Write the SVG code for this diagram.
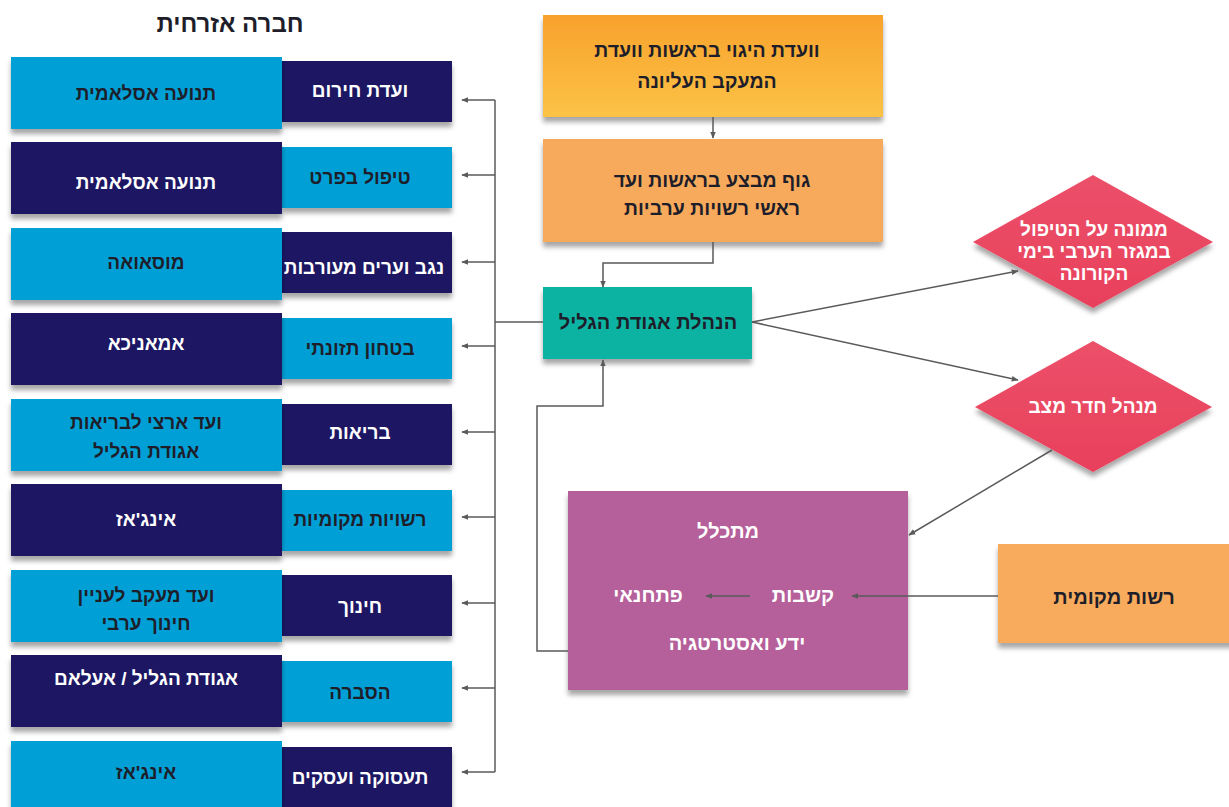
<svg xmlns="http://www.w3.org/2000/svg" width="1229" height="807" viewBox="0 0 1229 807">
<defs>
<style>
text{font-family:"Liberation Sans",Arial,"DejaVu Sans",sans-serif;text-anchor:middle}
.t{font-size:19px;font-weight:bold}
.c{font-size:19.5px;font-weight:bold}
.p{font-size:20px;font-weight:bold}
.w{fill:#ffffff}
.d{fill:#1e1e2a}
.lb{fill:#00A0D6}
.nv{fill:#1C1363}
.ln{fill:none;stroke:#5a5a5a;stroke-width:1.5}
</style>
<filter id="sh" x="-10%" y="-20%" width="120%" height="150%">
<feDropShadow dx="0" dy="5" stdDeviation="2.5" flood-color="#000" flood-opacity="0.35"/>
</filter>
<linearGradient id="og" x1="0" y1="0" x2="0" y2="1">
<stop offset="0" stop-color="#F8A22C"/>
<stop offset="1" stop-color="#FCC247"/>
</linearGradient>
<linearGradient id="rg" x1="0" y1="0" x2="0" y2="1">
<stop offset="0" stop-color="#EC5069"/>
<stop offset="1" stop-color="#E8405C"/>
</linearGradient>
<marker id="ar" viewBox="0 0 10 10" refX="9" refY="5" markerWidth="7" markerHeight="7" orient="auto-start-reverse" markerUnits="userSpaceOnUse">
<path d="M0,1 L10,5 L0,9 Z" fill="#5a5a5a"/>
</marker>
</defs>
<rect width="1229" height="807" fill="#ffffff"/>

<text x="230" y="32" style="font-size:24px;font-weight:bold" fill="#1e1e2a">חברה אזרחית</text>

<g id="row1">
<rect x="282" y="61" width="170" height="61" class="nv" filter="url(#sh)"/>
<text x="360" y="97" class="t w">ועדת חירום</text>
<rect x="11" y="57" width="271" height="72" class="lb" filter="url(#sh)"/>
<text x="146" y="100" class="t d">תנועה אסלאמית</text>
</g>
<g id="row2">
<rect x="282" y="147" width="170" height="61" class="lb" filter="url(#sh)"/>
<text x="360" y="184" class="t d">טיפול בפרט</text>
<rect x="11" y="142" width="271" height="72" class="nv" filter="url(#sh)"/>
<text x="146" y="189" class="t w">תנועה אסלאמית</text>
</g>
<g id="row3">
<rect x="282" y="232" width="170" height="61" class="nv" filter="url(#sh)"/>
<text x="364" y="274" class="t w">נגב וערים מעורבות</text>
<rect x="11" y="228" width="271" height="72" class="lb" filter="url(#sh)"/>
<text x="146" y="269" class="t d">מוסאואה</text>
</g>
<g id="row4">
<rect x="282" y="318" width="170" height="61" class="lb" filter="url(#sh)"/>
<text x="360" y="355" class="t d">בטחון תזונתי</text>
<rect x="11" y="313" width="271" height="72" class="nv" filter="url(#sh)"/>
<text x="146" y="350" class="t w">אמאניכא</text>
</g>
<g id="row5">
<rect x="282" y="404" width="170" height="61" class="nv" filter="url(#sh)"/>
<text x="360" y="439" class="t w">בריאות</text>
<rect x="11" y="399" width="271" height="72" class="lb" filter="url(#sh)"/>
<text x="146" y="429" class="t d">ועד ארצי לבריאות</text>
<text x="146" y="458" class="t d">אגודת הגליל</text>
</g>
<g id="row6">
<rect x="282" y="490" width="170" height="61" class="lb" filter="url(#sh)"/>
<text x="360" y="526" class="t d">רשויות מקומיות</text>
<rect x="11" y="484" width="271" height="72" class="nv" filter="url(#sh)"/>
<text x="146" y="526" class="t w">אינג'אז</text>
</g>
<g id="row7">
<rect x="282" y="575" width="170" height="61" class="nv" filter="url(#sh)"/>
<text x="360" y="613" class="t w">חינוך</text>
<rect x="11" y="570" width="271" height="72" class="lb" filter="url(#sh)"/>
<text x="146" y="602" class="t d">ועד מעקב לעניין</text>
<text x="146" y="630" class="t d">חינוך ערבי</text>
</g>
<g id="row8">
<rect x="282" y="661" width="170" height="61" class="lb" filter="url(#sh)"/>
<text x="360" y="699" class="t d">הסברה</text>
<rect x="11" y="655" width="271" height="72" class="nv" filter="url(#sh)"/>
<text x="146" y="685" class="t w">אגודת הגליל / אעלאם</text>
</g>
<g id="row9">
<rect x="282" y="747" width="170" height="66" class="nv" filter="url(#sh)"/>
<text x="360" y="784" class="t w">תעסוקה ועסקים</text>
<rect x="11" y="741" width="271" height="72" class="lb" filter="url(#sh)"/>
<text x="146" y="779" class="t d">אינג'אז</text>
</g>

<g id="steering">
<rect x="543" y="15" width="340" height="102" fill="url(#og)" filter="url(#sh)"/>
<text x="707" y="57" class="c d">וועדת היגוי בראשות וועדת</text>
<text x="707" y="88" class="c d">המעקב העליונה</text>
</g>
<g id="exec">
<rect x="543" y="139" width="340" height="103" fill="#F7AA5B" filter="url(#sh)"/>
<text x="712" y="187" class="c d">גוף מבצע בראשות ועד</text>
<text x="712" y="215" class="c d">ראשי רשויות ערביות</text>
</g>
<g id="mgmt">
<rect x="543" y="287" width="209" height="72" fill="#0CB3A2" filter="url(#sh)"/>
<text x="648" y="329" style="font-size:20px;font-weight:bold" fill="#1e1e2a">הנהלת אגודת הגליל</text>
</g>
<g id="corona">
<polygon points="1093,175 1213,242 1093,308 973,242" fill="url(#rg)" filter="url(#sh)"/>
<text x="1094" y="236" class="t w">ממונה על הטיפול</text>
<text x="1094" y="258" class="t w">במגזר הערבי בימי</text>
<text x="1094" y="280" class="t w">הקורונה</text>
</g>
<g id="situation">
<polygon points="1093,341 1212,407 1093,472 975,407" fill="url(#rg)" filter="url(#sh)"/>
<text x="1093" y="413" class="t w">מנהל חדר מצב</text>
</g>
<g id="integrator">
<rect x="568" y="491" width="340" height="199" fill="#B5609A" filter="url(#sh)"/>
<text x="728" y="538" class="p w">מתכלל</text>
<text x="803" y="602" class="p w">קשבות</text>
<text x="648" y="602" class="p w">פתחנאי</text>
<text x="737" y="650" class="p w">ידע ואסטרטגיה</text>
</g>
<g id="local">
<rect x="998" y="544" width="240" height="99" fill="#F8AB5C" filter="url(#sh)"/>
<text x="1114" y="604" class="p d">רשות מקומית</text>
</g>

<g id="connectors">
<path class="ln" d="M495,100 V772"/>
<path class="ln" d="M495,322 H543"/>
<path class="ln" d="M495,100 H462" marker-end="url(#ar)"/>
<path class="ln" d="M495,175 H462" marker-end="url(#ar)"/>
<path class="ln" d="M495,262 H462" marker-end="url(#ar)"/>
<path class="ln" d="M495,346 H462" marker-end="url(#ar)"/>
<path class="ln" d="M495,432 H462" marker-end="url(#ar)"/>
<path class="ln" d="M495,517 H462" marker-end="url(#ar)"/>
<path class="ln" d="M495,603 H462" marker-end="url(#ar)"/>
<path class="ln" d="M495,688 H462" marker-end="url(#ar)"/>
<path class="ln" d="M495,772 H462" marker-end="url(#ar)"/>
<path class="ln" d="M713,117 V138" marker-end="url(#ar)"/>
<path class="ln" d="M713,242 V263 H603 V287" marker-end="url(#ar)"/>
<path class="ln" d="M568,651 H537 V406 H603 V360" marker-end="url(#ar)"/>
<path class="ln" d="M752,322 L1018,271" marker-end="url(#ar)"/>
<path class="ln" d="M752,322 L1018,380" marker-end="url(#ar)"/>
<path class="ln" d="M1052,450 L909,535" marker-end="url(#ar)"/>
<path class="ln" d="M998,596 H852" marker-end="url(#ar)"/>
<path class="ln" d="M750,596 H706" marker-end="url(#ar)"/>
</g>
</svg>
